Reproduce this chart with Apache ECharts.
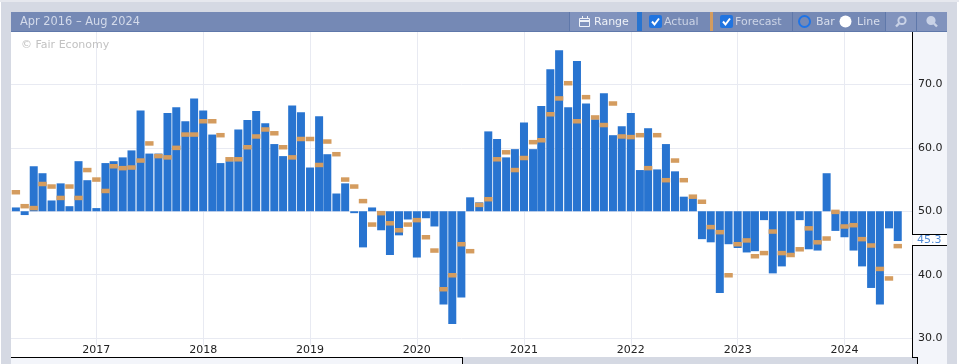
<!DOCTYPE html>
<html>
<head>
<meta charset="utf-8">
<title>Apr 2016 – Aug 2024</title>
<style>
  html, body { margin: 0; padding: 0; background: #fff; overflow: hidden; }
  #chart { width: 959px; height: 364px; }
</style>
<script src="https://cdn.jsdelivr.net/npm/echarts@6/dist/echarts.min.js"></script>
</head>
<body>
<div id="chart"></div>
<script>
// monthly, Apr 2016 - Jul 2024
const firstMonth = [2016, 3];
const actual = [
  50.6, 49.4, 57.1, 56.0, 51.7, 54.4, 50.8, 57.9, 54.9,
  50.5, 57.6, 57.9, 58.5, 59.6, 65.9, 59.1, 59.1, 65.5, 66.4, 64.2, 67.8,
  65.9, 62.1, 57.6, 57.9, 62.9, 64.4, 65.8, 63.9, 60.6, 58.7, 66.7, 65.6,
  56.9, 65.0, 59.0, 52.8, 54.4, 49.7, 44.3, 50.6, 47.0, 43.1, 46.2, 48.7,
  42.7, 48.9, 47.6, 35.3, 32.2, 36.4, 52.2, 51.4, 62.6, 61.4, 58.5, 59.8,
  64.0, 59.8, 66.6, 72.4, 75.4, 66.4, 73.7, 67.0, 64.5, 68.6, 62.0, 63.4,
  65.5, 56.5, 63.1, 56.6, 60.6, 56.3, 52.3, 52.1, 45.6, 45.1, 37.1, 44.8,
  44.2, 43.5, 43.7, 48.6, 40.2, 41.3, 43.3, 48.6, 44.0, 43.8, 56.0, 46.9,
  45.9, 43.8, 41.3, 37.9, 35.3, 47.3, 45.3
];
const forecast = [
  53.0, 50.8, 50.5, 54.3, 53.9, 52.1, 53.9, 52.1, 56.5,
  55.0, 53.2, 57.1, 56.8, 56.9, 58.0, 60.7, 58.7, 58.5, 60.0, 62.1, 62.1,
  64.2, 64.2, 62.0, 58.2, 58.2, 60.1, 61.8, 62.9, 62.3, 60.1, 58.5, 61.4,
  61.4, 57.3, 61.0, 59.0, 55.0, 53.9, 51.6, 47.9, 49.7, 48.1, 47.0, 47.9,
  48.6, 45.9, 43.8, 37.7, 39.9, 44.8, 43.7, 51.0, 51.9, 58.2, 59.3, 56.5,
  58.4, 60.9, 61.2, 65.3, 67.8, 70.2, 64.2, 68.0, 64.8, 63.6, 67.0, 61.8,
  61.7, 62.0, 56.8, 62.0, 54.9, 58.0, 54.9, 52.3, 51.5, 47.5, 46.7, 39.9,
  44.8, 45.4, 42.9, 43.4, 46.8, 43.4, 43.1, 44.0, 47.3, 45.1, 45.7, 49.9,
  47.6, 47.8, 45.6, 44.6, 40.9, 39.4, 44.5
];
const baseline = 50;
const titleText = 'Apr 2016 – Aug 2024';
const lastValue = '45.3';

const months = actual.map((v, i) => Date.UTC(firstMonth[0], firstMonth[1] + i, 1));

const FONT = '"DejaVu Sans", sans-serif';
const FRAME = '#d5d9e3';
const BAR_HEAD = '#7589b5';
const BTN = '#8193bd';
const SEP = '#5f78aa';
const PANEL = '#f3f5fa';
const BLUE = '#2874d0';
const ORANGE = '#d49c5f';
const ICON = '#c9d2e6';

const box = (x, y, w, h, fill, z) => ({ type: 'rect', shape: { x, y, width: w, height: h }, style: { fill }, z, silent: true });
const label = (x, y, text, fill, size) => ({
  type: 'text', x, y, z: 12, silent: true,
  style: { text, fill, font: (size || 11) + 'px ' + FONT, verticalAlign: 'middle' }
});
const checkbox = (x) => [
  { type: 'rect', shape: { x, y: 15, width: 13, height: 13, r: 2 }, style: { fill: '#2074e0' }, z: 12, silent: true },
  { type: 'polyline', shape: { points: [[x + 3, 21.5], [x + 5.5, 24.5], [x + 10, 18.5]] }, style: { stroke: '#fff', lineWidth: 2, fill: null }, z: 13, silent: true }
];
const magnifier = (cx, plus) => [
  { type: 'circle', shape: { cx, cy: 20.5, r: 3.6 }, style: { fill: plus ? 'none' : ICON, stroke: ICON, lineWidth: 2 }, z: 13, silent: true },
  { type: 'line', shape: { x1: plus ? cx - 3 : cx + 3, y1: 23.5, x2: plus ? cx - 6 : cx + 6, y2: 26.5 }, style: { stroke: ICON, lineWidth: 2.4 }, z: 13, silent: true }
];

const chrome = [
  // behind the plot and axis labels
  box(0, 0, 959, 2, '#e6e8ee', -3),
  box(1, 2, 956, 362, FRAME, -3),
  box(11, 32, 901, 325, '#ffffff', -2),
  box(912, 32, 35, 332, PANEL, -2),
  // axis strip on the right
  box(912, 32, 1, 202, '#000', 11),
  box(912, 245, 1, 113, '#000', 11),
  box(912, 234, 35, 1, '#000', 11),
  box(912, 245, 35, 1, '#000', 11),
  box(913, 235, 34, 10, '#fff', -1),
  box(912, 357, 5, 1, '#000', 11),
  box(917, 357, 1, 7, '#000', 11),
  box(912, 358, 5, 6, FRAME, 11),
  // bottom strip
  box(11, 357, 451, 1, '#000', 11),
  box(11, 358, 451, 6, PANEL, 11),
  box(462, 357, 1, 7, '#000', 11),
  // title bar
  box(11, 12, 936, 20, BAR_HEAD, 11),
  box(11, 31, 936, 1, SEP, 12),
  box(569, 12, 69, 19, BTN, 11),
  box(569, 12, 1, 19, SEP, 12),
  box(637, 12, 5, 19, BLUE, 12),
  box(710, 12, 3, 19, ORANGE, 12),
  box(792, 12, 1, 19, SEP, 12),
  box(885, 12, 62, 19, BTN, 11),
  box(885, 12, 1, 19, SEP, 12),
  box(916, 12, 1, 19, SEP, 12),
  label(20, 22, titleText, '#d3daea', 11.4),
  label(21, 45, '© Fair Economy', '#c2c2c2'),
  // Range
  { type: 'rect', shape: { x: 579.5, y: 18.5, width: 10, height: 8 }, style: { fill: 'none', stroke: '#eef1f7', lineWidth: 1 }, z: 13, silent: true },
  box(579, 20, 11, 2, '#eef1f7', 13),
  box(582, 16, 1, 3, '#eef1f7', 13),
  box(587, 16, 1, 3, '#eef1f7', 13),
  label(594, 22, 'Range', '#eef1f7'),
  // toggles
  ...checkbox(649),
  label(664, 22, 'Actual', '#ccd4e6'),
  ...checkbox(720),
  label(735, 22, 'Forecast', '#ccd4e6'),
  { type: 'circle', shape: { cx: 804.5, cy: 21.5, r: 5.5 }, style: { fill: BAR_HEAD, stroke: '#1f74e6', lineWidth: 2 }, z: 13, silent: true },
  label(816, 22, 'Bar', '#d8deec'),
  { type: 'circle', shape: { cx: 845.5, cy: 21.5, r: 6 }, style: { fill: '#fff' }, z: 13, silent: true },
  label(857, 22, 'Line', '#d8deec'),
  ...magnifier(902, true),
  ...magnifier(931, false),
  label(917, 240, lastValue, '#4f8ad6')
];

const chart = echarts.init(document.getElementById('chart'));
chart.setOption({
  animation: false,
  textStyle: { fontFamily: FONT },
  grid: { left: 11, right: 47, top: 32, bottom: 19 },
  xAxis: {
    type: 'time',
    // bars push the time scale out by half a bar on each side, so these sit inside the visible range
    min: Date.UTC(2016, 2, 29),
    max: Date.UTC(2024, 7, 5),
    minInterval: 365 * 24 * 3600 * 1000,
    axisLine: { show: false },
    axisTick: { show: false },
    axisLabel: { color: '#222', fontSize: 11, margin: 0, formatter: '{yyyy}', showMinLabel: false, showMaxLabel: false, verticalAlign: 'top' },
    splitLine: { show: true, showMinLine: false, showMaxLine: false, lineStyle: { color: '#e8eaf2', width: 1 } }
  },
  yAxis: {
    type: 'value',
    position: 'right',
    min: 28.9,
    max: 78.28,
    splitNumber: 5,
    axisLine: { show: false },
    axisTick: { show: false },
    axisLabel: { color: '#222', fontSize: 11, margin: 6, formatter: v => v.toFixed(1), showMinLabel: false, showMaxLabel: false },
    splitLine: { show: true, showMinLine: false, showMaxLine: false, lineStyle: { color: '#e8eaf2', width: 1 } }
  },
  graphic: { elements: chrome },
  series: [
    {
      // invisible base so the bars hang off the 50 line
      name: 'Base',
      type: 'bar',
      stack: 'actual',
      stackStrategy: 'all',
      barWidth: 8,
      itemStyle: { color: 'transparent' },
      data: months.map(m => [m, baseline]),
      silent: true
    },
    {
      name: 'Actual',
      type: 'bar',
      stack: 'actual',
      stackStrategy: 'all',
      barWidth: 8,
      itemStyle: { color: BLUE },
      data: months.map((m, i) => [m, actual[i] - baseline]),
      silent: true
    },
    {
      name: 'Forecast',
      type: 'scatter',
      symbol: 'rect',
      symbolSize: [8.4, 4.5],
      itemStyle: { color: ORANGE, opacity: 1 },
      data: months.map((m, i) => [m, forecast[i]]),
      silent: true,
      z: 3
    }
  ]
});
</script>
</body>
</html>
